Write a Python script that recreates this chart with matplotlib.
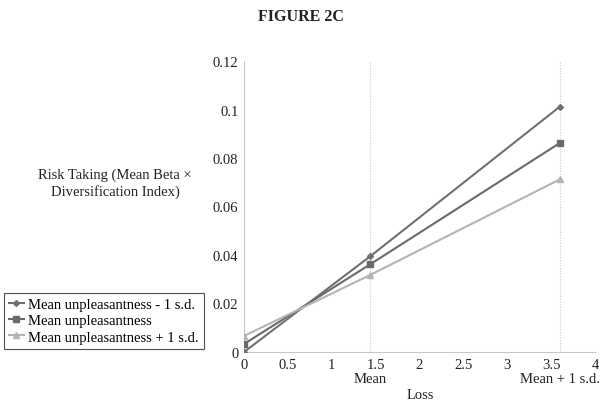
import matplotlib
matplotlib.use("Agg")
import matplotlib.pyplot as plt

plt.rcParams['font.family'] = ['Liberation Serif', 'DejaVu Serif']

loss = [0, 1.44, 3.6]
series_names = ["Mean unpleasantness - 1 s.d.", "Mean unpleasantness", "Mean unpleasantness + 1 s.d."]
low = [0.0, 0.0395, 0.1012]
mid = [0.0033, 0.0362, 0.0862]
high = [0.0066, 0.0318, 0.0712]
xticks = [0, 0.5, 1, 1.5, 2, 2.5, 3, 3.5, 4]
xticklabels = ["0", "0.5", "1", "1.5", "2", "2.5", "3", "3.5", "4"]
yticks = [0, 0.02, 0.04, 0.06, 0.08, 0.1, 0.12]
yticklabels = ["0", "0.02", "0.04", "0.06", "0.08", "0.1", "0.12"]
ref_x = [1.44, 3.6]
ref_labels = ["Mean", "Mean + 1 s.d."]

fig = plt.figure(figsize=(6.02, 4.06), dpi=100)
ax = fig.add_axes([244/602, 1-353/406, (595-244)/602, (353-62)/406])

colors = ["#707070", "#6a6a6a", "#b4b4b4"]
markers = ["D", "s", "^"]
msizes = [3, 4.5, 4]
for vals, name, c, m, ms in zip([low, mid, high], series_names, colors, markers, msizes):
    ax.plot(loss, vals, color=c, marker=m, markersize=ms, linewidth=1.5, label=name, zorder=3)

for xv in ref_x:
    ax.axvline(xv, color="#c8c8c8", linestyle=(0, (1, 1.5)), linewidth=0.8, zorder=1)

ax.set_xlim(0, 4)
ax.set_ylim(0, 0.12)
ax.set_xticks(xticks)
ax.set_xticklabels(xticklabels)
ax.set_yticks(yticks)
ax.set_yticklabels(yticklabels)
ax.tick_params(axis='both', length=0, labelsize=10.5, colors="#222222", pad=4)
for s in ["top", "right"]:
    ax.spines[s].set_visible(False)
for s in ["left", "bottom"]:
    ax.spines[s].set_color("#c8c8c8")

for xv, lab in zip(ref_x, ref_labels):
    ax.text(xv, -0.0082, lab, ha="center", va="top", fontsize=10.5, color="#222222")

fig.text(420/602, 1-396/406, "Loss", ha="center", va="center", fontsize=10.5, color="#222222")
fig.text(115/602, 1-184/406, "Risk Taking (Mean Beta ×\nDiversification Index)", ha="center", va="center",
         fontsize=10.5, color="#222222", linespacing=1.3)
fig.text(301/602, 1-17/406, "FIGURE 2C", ha="center", va="center", fontsize=11.5, fontweight="bold", color="#222222")

leg = fig.legend(loc="upper left", bbox_to_anchor=(4/602, 1-294/406), frameon=True, fancybox=False,
                 fontsize=10.5, handlelength=1.0, handletextpad=0.3, borderpad=0.35, labelspacing=0.2,
                 borderaxespad=0)
leg.get_frame().set_edgecolor("#222222")
leg.get_frame().set_linewidth(0.8)

fig.savefig("out.png", dpi=100)
